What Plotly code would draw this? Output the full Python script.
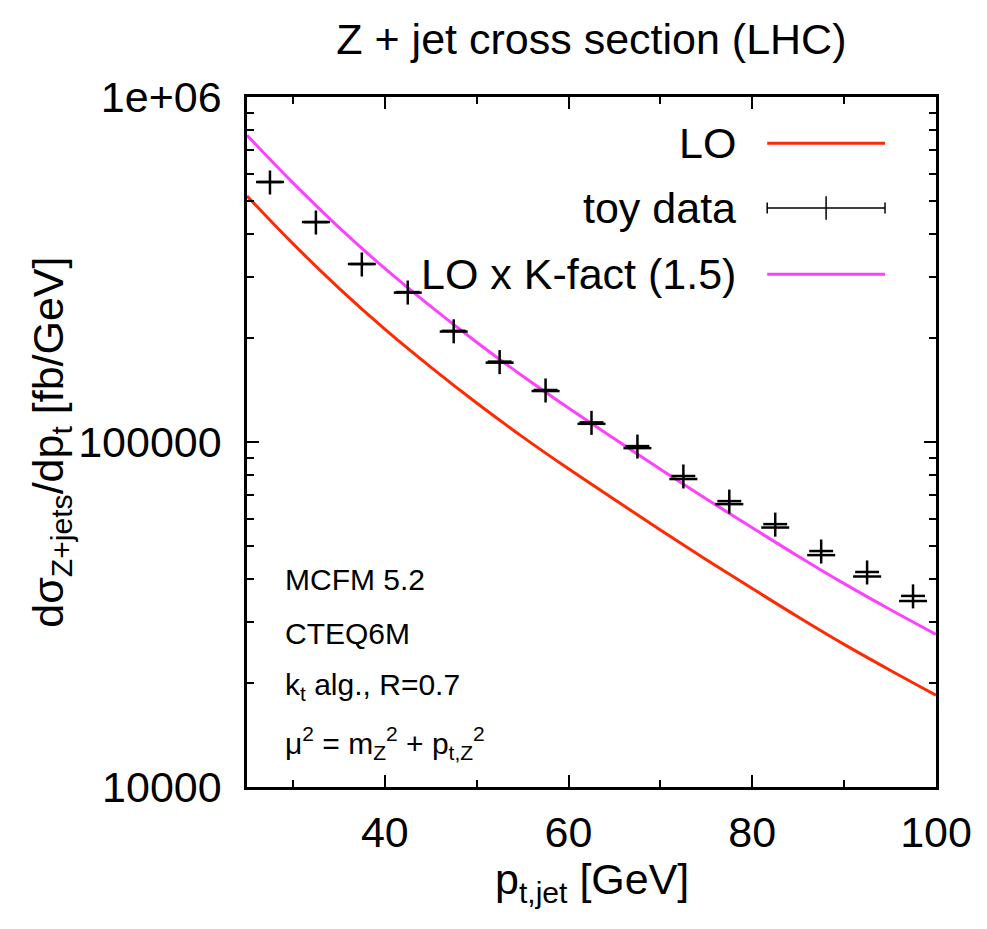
import plotly.graph_objects as go

# ---- data ----
pt_curve = [25, 30, 35, 40, 45, 50, 55, 60, 65, 70, 75, 80, 85, 90, 95, 100]
lo = [516400, 375800, 279300, 212300, 164800, 129700, 103500, 83600, 68100,
      55600, 45600, 37600, 31100, 25900, 21800, 18450]
lo_kfact = [774600, 563700, 419000, 318500, 247200, 194600, 155300, 125400,
            102200, 83400, 68400, 56400, 46650, 38850, 32700, 27700]

pt_data = [27.5, 32.5, 37.5, 42.5, 47.5, 52.5, 57.5, 62.5, 67.5, 72.5, 77.5,
           82.5, 87.5, 92.5, 97.5]
toy = [567000, 434000, 328000, 272000, 210000, 171000, 141500, 114000, 97300,
       79700, 67400, 57800, 48300, 42000, 35800]
toy_point = [567000, 434000, 328000, 271000, 209000, 169800, 140500, 112900,
             96000, 78100, 66050, 56500, 47000, 40750, 34600]
pt_halfwidth = [1.3] * len(pt_data)
toy_err_pct = 8

x_ticks = [40, 60, 80, 100]
x_minor = [30, 50, 70, 90]
y_ticks = [1e4, 1e5, 1e6]
y_ticktext = ["10000", "100000", "1e+06"]
y_minor = [m * 10 ** e for e in (4, 5) for m in range(2, 10)]

RED = "#FF2A00"
MAG = "#FF40FF"
FONT = "Liberation Sans, Arial, Helvetica, sans-serif"
BIG = 43
SMALL = 30

fig = go.Figure()
fig.add_trace(go.Scatter(x=pt_curve, y=lo, mode="lines", line_shape="spline",
                         line=dict(color=RED, width=3), showlegend=False))
fig.add_trace(go.Scatter(x=pt_curve, y=lo_kfact, mode="lines", line_shape="spline",
                         line=dict(color=MAG, width=3), showlegend=False))
fig.add_trace(go.Scatter(
    x=pt_data, y=toy, mode="markers",
    marker=dict(size=1, color="black", opacity=0),
    error_x=dict(type="data", array=pt_halfwidth, color="black", thickness=2.5, width=0),
    error_y=dict(type="percent", value=toy_err_pct, color="black", thickness=2.5, width=0),
    showlegend=False))
fig.add_trace(go.Scatter(
    x=pt_data, y=toy_point, mode="markers",
    marker=dict(symbol="line-ew", size=20, color="black",
                line=dict(color="black", width=2.5)),
    showlegend=False))

# ---- custom legend (paper coords) ----
lx0, lx1 = 0.755, 0.926
rows = [(0.933, "LO", RED), (0.839, "toy data", None), (0.743, "LO x K-fact (1.5)", MAG)]
shapes = []
annotations = []
for yy, label, col in rows:
    annotations.append(dict(x=0.713, y=yy, xref="paper", yref="paper", text=label,
                            showarrow=False, xanchor="right", yanchor="middle",
                            font=dict(size=BIG, color="black", family=FONT)))
    if col:
        shapes.append(dict(type="line", xref="paper", yref="paper", x0=lx0, x1=lx1,
                           y0=yy, y1=yy, line=dict(color=col, width=3)))
    else:
        shapes.append(dict(type="line", xref="paper", yref="paper", x0=lx0, x1=lx1,
                           y0=yy, y1=yy, line=dict(color="black", width=1.5)))
        for xe in (lx0, lx1):
            shapes.append(dict(type="line", xref="paper", yref="paper", x0=xe, x1=xe,
                               y0=yy - 0.008, y1=yy + 0.008, line=dict(color="black", width=1.5)))
        xm = (lx0 + lx1) / 2
        shapes.append(dict(type="line", xref="paper", yref="paper", x0=xm, x1=xm,
                           y0=yy - 0.017, y1=yy + 0.017, line=dict(color="black", width=1.5)))

info = [(0.301, "MCFM 5.2"), (0.222, "CTEQ6M"), (0.145, "k<sub>t</sub> alg., R=0.7"),
        (0.064, "μ<sup>2</sup> = m<sub>Z</sub><sup>2</sup> + p<sub>t,Z</sub><sup>2</sup>")]
for yy, t in info:
    annotations.append(dict(x=0.052, y=yy, xref="paper", yref="paper", text=t,
                            showarrow=False, xanchor="left", yanchor="middle",
                            font=dict(size=SMALL, color="black", family=FONT)))

annotations.append(dict(x=-0.285, y=0.5, xref="paper", yref="paper",
                        text="dσ<sub>Z+jets</sub>/dp<sub>t</sub> [fb/GeV]", textangle=-90,
                        showarrow=False, xanchor="center", yanchor="middle",
                        font=dict(size=BIG, color="black", family=FONT)))
annotations.append(dict(x=0.5, y=-0.138, xref="paper", yref="paper",
                        text="p<sub>t,jet</sub> [GeV]",
                        showarrow=False, xanchor="center", yanchor="middle",
                        font=dict(size=BIG, color="black", family=FONT)))

fig.update_layout(
    width=987, height=929,
    margin=dict(l=247, r=51, t=97, b=142),
    paper_bgcolor="white", plot_bgcolor="white",
    font=dict(family=FONT, color="black", size=BIG),
    title=dict(text="Z + jet cross section (LHC)", x=0.5992, xanchor="center",
               y=0.958, yanchor="middle", font=dict(size=BIG, family=FONT)),
    shapes=shapes, annotations=annotations,
    showlegend=False,
)
fig.update_xaxes(range=[25, 100], tickvals=x_ticks, ticks="inside", ticklen=12,
                 tickwidth=1.5, tickcolor="black", showline=True, linecolor="black",
                 linewidth=2.5, mirror="ticks", showgrid=False, zeroline=False,
                 ticklabelstandoff=6, tickfont=dict(size=BIG),
                 minor=dict(tickvals=x_minor, ticks="inside", ticklen=7,
                            tickcolor="black", tickwidth=1.5, showgrid=False))
fig.update_yaxes(type="log", range=[4, 6], tickvals=y_ticks, ticktext=y_ticktext,
                 ticks="inside", ticklen=12, tickwidth=1.5, tickcolor="black",
                 showline=True, linecolor="black", linewidth=2.5, mirror="ticks",
                 showgrid=False, zeroline=False, ticklabelstandoff=14,
                 tickfont=dict(size=BIG),
                 minor=dict(tickvals=y_minor, ticks="inside", ticklen=7,
                            tickcolor="black", tickwidth=1.5, showgrid=False))

fig.write_html("out.html")
